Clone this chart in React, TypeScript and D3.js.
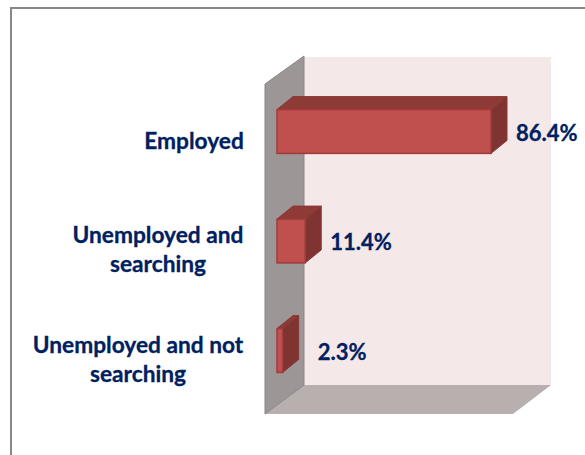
import React from "react";
import * as d3 from "d3";

const categories = ["Employed", "Unemployed and searching", "Unemployed and not searching"];
const categoryLines = [["Employed"], ["Unemployed and", "searching"], ["Unemployed and not", "searching"]];
const values = [86.4, 11.4, 2.3];
const valueLabels = ["86.4%", "11.4%", "2.3%"];

const W = 585, H = 455;
const depthX = 16, depthY = -13;
const x = d3.scaleLinear().domain([0, 100]).range([277, 524.7]);
const y = d3.scaleBand<string>().domain(categories).range([76.75, 405.25]).paddingInner(0.6).paddingOuter(0.3);
const navy = "#002060";
const font = "Lato, Carlito, sans-serif";
const pts = (p: number[][]) => p.map((q) => q.join(",")).join(" ");

export default function App() {
  return (
    <svg width={W} height={H} style={{ position: "absolute", left: 0, top: 0, background: "#fff" }}>
      <path d="M11 455V8H585" fill="none" stroke="#888888" strokeWidth={2} />
      <polygon points={pts([[304, 57], [551, 57], [551, 385], [304, 385]])} fill="#f4e8e8" />
      <polygon points={pts([[265, 414], [304, 385], [551, 385], [513, 414]])} fill="#b8afaf" />
      <polygon points={pts([[265, 84], [304, 56], [304, 385], [265, 414]])} fill="#9c9696" stroke="#8a8585" strokeWidth={1} />
      {categories.map((c, i) => {
        const x0 = x(0), x1 = x(values[i]);
        const y0 = y(c)!, y1 = y0 + y.bandwidth();
        return (
          <g key={c}>
            <polygon points={pts([[x0, y0], [x0 + depthX, y0 + depthY], [x1 + depthX, y0 + depthY], [x1, y0]])} fill="#8e3a37" stroke="#8a3835" strokeWidth={1} />
            <polygon points={pts([[x1, y0], [x1 + depthX, y0 + depthY], [x1 + depthX, y1 + depthY], [x1, y1]])} fill="#7f3432" stroke="#8a3835" strokeWidth={1} />
            <rect x={x0} y={y0} width={x1 - x0} height={y1 - y0} fill="#c0504d" stroke="#a03b39" strokeWidth={1.5} />
            <text x={x1 + depthX + (i === 2 ? 19 : 9)} y={y0 + y.bandwidth() / 2 + 9} fontFamily={font} fontWeight={700} fontSize={22} fill={navy} stroke={navy} strokeWidth={0.3}>{valueLabels[i]}</text>
            <g fontFamily={font} fontWeight={700} fontSize={22.7} fill={navy} stroke={navy} strokeWidth={0.3} textAnchor="middle">
              {categoryLines[i].map((l, j) => (
                <text key={l} x={i === 0 ? 194 : i === 1 ? 158 : 138} y={(i === 0 ? 149 : i === 1 ? 243 : 353) + j * 29}>{l}</text>
              ))}
            </g>
          </g>
        );
      })}
    </svg>
  );
}
